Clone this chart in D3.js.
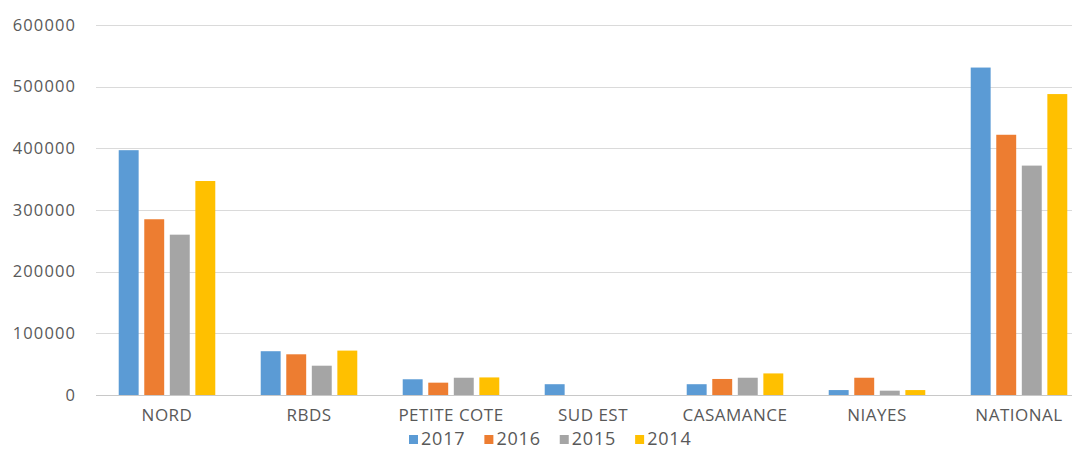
<!DOCTYPE html>
<html>
<head>
<meta charset="utf-8">
<script src="https://cdn.jsdelivr.net/npm/d3@7"></script>
<style>
  html, body { margin: 0; padding: 0; background: #fff; }
  svg { display: block; }
  text { font-family: "Open Sans", sans-serif; fill: #595959; }
</style>
</head>
<body>
<script>
// chart data
var regions = ["NORD", "RBDS", "PETITE COTE", "SUD EST", "CASAMANCE", "NIAYES", "NATIONAL"];
var years = ["2017", "2016", "2015", "2014"];
var colors = ["#5b9bd5", "#ed7d31", "#a5a5a5", "#ffc000"];
var v2017 = [397000, 71000, 25500, 17500, 17500, 8000, 531000];
var v2016 = [285000, 66000, 20000, 0, 26000, 28000, 422000];
var v2015 = [260000, 47500, 28000, 0, 28000, 7000, 372000];
var v2014 = [347000, 72000, 28500, 0, 35000, 8000, 488000];
var yTicks = [0, 100000, 200000, 300000, 400000, 500000, 600000];

var series = [v2017, v2016, v2015, v2014];

var width = 1072,
    height = 450,
    plotLeft = 96,
    plotRight = 1090,
    plotTop = 25,
    plotBottom = 395;

var svg = d3.select("body").append("svg")
  .attr("width", width)
  .attr("height", height);

var x0 = d3.scaleBand()
  .domain(regions)
  .range([plotLeft, plotRight])
  .paddingInner(0.32)
  .paddingOuter(0.16);

var x1 = d3.scaleBand()
  .domain(years)
  .range([0, x0.bandwidth()])
  .paddingInner(0.22);

var y = d3.scaleLinear()
  .domain([0, 600000])
  .range([plotBottom, plotTop]);

// grid
svg.append("g").selectAll("line")
  .data(yTicks)
  .join("line")
  .attr("x1", plotLeft)
  .attr("x2", width)
  .attr("y1", d => Math.round(y(d)) + 0.5)
  .attr("y2", d => Math.round(y(d)) + 0.5)
  .attr("stroke", d => d === 0 ? "#c8c8c8" : "#dadada")
  .attr("stroke-width", 1.2);

// y labels
var yAxis = d3.axisLeft(y).tickValues(yTicks).tickFormat(d3.format("d")).tickSize(0).tickPadding(0);
var gy = svg.append("g")
  .attr("transform", "translate(76,0)")
  .call(yAxis);
gy.select(".domain").remove();
gy.selectAll("text")
  .style("font-family", "'Open Sans', sans-serif")
  .style("font-size", "16.5px")
  .style("letter-spacing", "1.1px")
  .attr("fill", "#666");

// bars
var groups = svg.append("g").selectAll("g")
  .data(regions)
  .join("g")
  .attr("transform", d => `translate(${x0(d)},0)`);

groups.selectAll("rect")
  .data((d, i) => years.map((yr, j) => ({ year: yr, value: series[j][i], c: colors[j] })))
  .join("rect")
  .attr("x", d => x1(d.year))
  .attr("width", x1.bandwidth())
  .attr("y", d => y(d.value))
  .attr("height", d => plotBottom - y(d.value))
  .attr("fill", d => d.c);

// x labels
var xAxis = d3.axisBottom(x0).tickSize(0).tickPadding(0);
var gx = svg.append("g")
  .attr("transform", "translate(0,409)")
  .call(xAxis);
gx.select(".domain").remove();
gx.selectAll("text")
  .style("font-family", "'Open Sans', sans-serif")
  .style("font-size", "17px")
  .style("letter-spacing", "0.5px")
  .attr("fill", "#666");

// legend
var legend = svg.append("g").attr("transform", "translate(409,439)");
var lx = 0;
years.forEach(function (yr, i) {
  var item = legend.append("g").attr("transform", `translate(${lx},0)`);
  item.append("rect")
    .attr("x", 0)
    .attr("y", -4)
    .attr("width", 9)
    .attr("height", 9)
    .attr("fill", colors[i]);
  var t = item.append("text")
    .attr("x", 12)
    .attr("dy", "0.35em")
    .style("font-size", "18px")
    .style("letter-spacing", "0.8px")
    .attr("fill", "#666")
    .text(yr);
  lx += 12 + t.node().getComputedTextLength() + 19;
});
</script>
</body>
</html>
